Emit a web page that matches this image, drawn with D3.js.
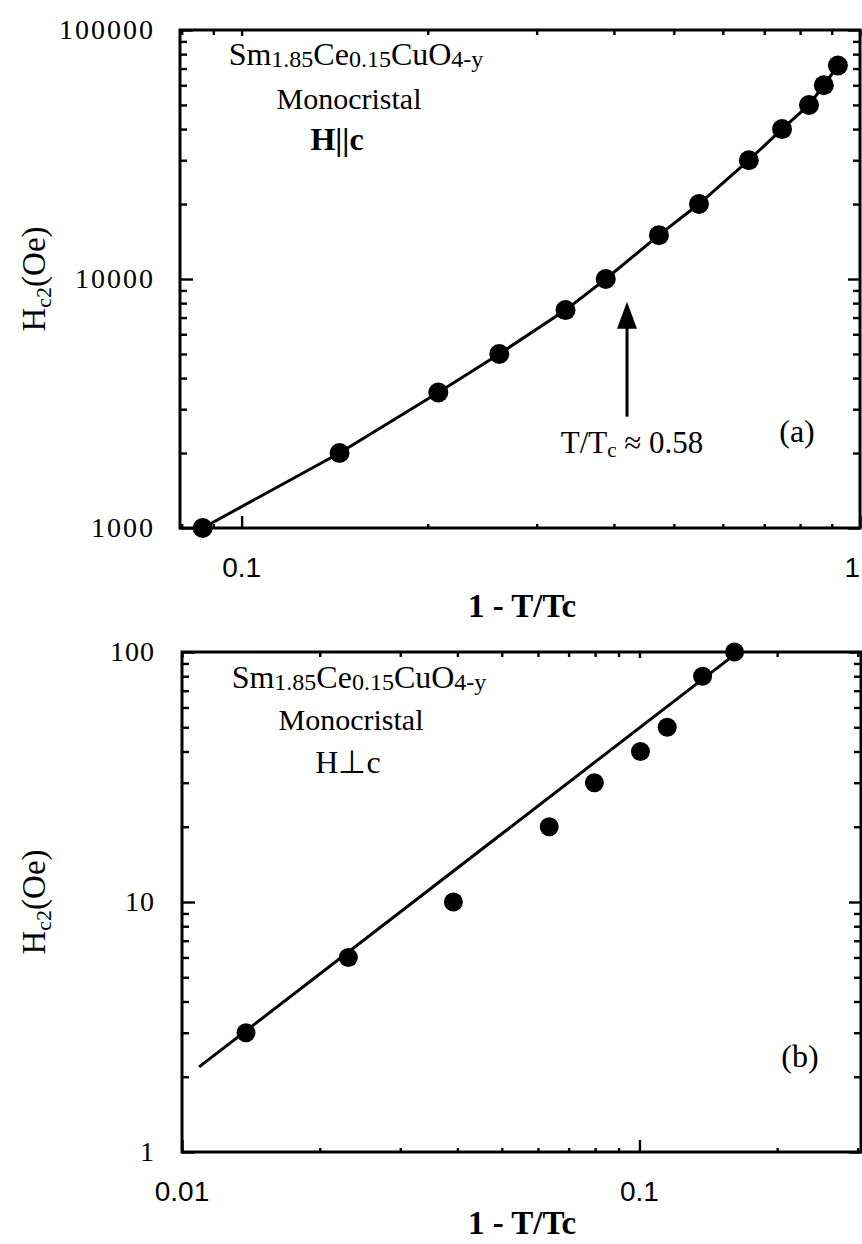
<!DOCTYPE html>
<html>
<head>
<meta charset="utf-8">
<script src="https://cdn.jsdelivr.net/npm/d3@7"></script>
<style>
	body { margin: 0; background: #fff; }
	svg { display: block; }
	.serif { font-family: "Liberation Serif", "Times New Roman", serif; fill: #000; }
	.sans { font-family: "Liberation Sans", Arial, sans-serif; fill: #000; }
</style>
</head>
<body>
<div id="chart"></div>
<script>
// panel (a) : H || c
let xA		= [0.0865, 0.144, 0.208, 0.261, 0.334, 0.388, 0.473, 0.549, 0.661, 0.748, 0.827, 0.874, 0.921];
let yA		= [1000, 2000, 3500, 5000, 7500, 10000, 15000, 20000, 30000, 40000, 50000, 60000, 72000];
let yTicksA	= [1000, 10000, 100000];
let xTicksA	= [0.1, 1];
let arrowX	= 0.42;
let arrowY	= [2800, 8100];

// panel (b) : H perp c
let xB		= [0.0138, 0.0231, 0.0392, 0.0635, 0.0797, 0.1005, 0.115, 0.1374, 0.1614];
let yB		= [3, 6, 10, 20, 30, 40, 50, 80, 100];
let fitXB	= [0.0109, 0.163];
let fitYB	= [2.19, 99];
let yTicksB	= [1, 10, 100];
let xTicksB	= [0.01, 0.1];

let W = 862, H = 1244;

let svg = d3.select("#chart").append("svg")
	.attr("width", W)
	.attr("height", H);

function drawPanel(cfg) {
	let x = d3.scaleLog().domain(cfg.xDomain).range([cfg.left, cfg.right]);
	let y = d3.scaleLog().domain(cfg.yDomain).range([cfg.bottom, cfg.top]);
	let g = svg.append("g");

	let isMajor = (v) => Math.abs(Math.log10(v) - Math.round(Math.log10(v))) < 1e-6;
	let xMinor = x.ticks().filter(v => !isMajor(v));
	let yMinor = y.ticks().filter(v => !isMajor(v));
	let xMajor = x.ticks().filter(isMajor);
	let yMajor = y.ticks().filter(isMajor);

	function tickAxis(axis, pos, values, size) {
		g.append("g")
			.attr("transform", pos)
			.call(axis.tickValues(values).tickSize(size).tickFormat(""))
			.call(s => s.select(".domain").remove())
			.call(s => s.selectAll("line").attr("stroke", "#000").attr("stroke-width", 2.4));
	}

	tickAxis(d3.axisLeft(y), `translate(${cfg.left},0)`, yMinor, -7);
	tickAxis(d3.axisLeft(y), `translate(${cfg.left},0)`, yMajor, -13);
	tickAxis(d3.axisRight(y), `translate(${cfg.right},0)`, yMinor, -7);
	tickAxis(d3.axisRight(y), `translate(${cfg.right},0)`, yMajor, -12);
	tickAxis(d3.axisBottom(x), `translate(0,${cfg.bottom})`, xMinor, -4);
	tickAxis(d3.axisBottom(x), `translate(0,${cfg.bottom})`, xMajor, -12);
	tickAxis(d3.axisTop(x), `translate(0,${cfg.top})`, xMinor, -5);
	tickAxis(d3.axisTop(x), `translate(0,${cfg.top})`, xMajor, -6);

	g.append("rect")
		.attr("x", cfg.left)
		.attr("y", cfg.top)
		.attr("width", cfg.right - cfg.left)
		.attr("height", cfg.bottom - cfg.top)
		.attr("fill", "none")
		.attr("stroke", "#000")
		.attr("stroke-width", 3);

	// tick labels
	g.selectAll("text.ylab")
		.data(cfg.yTicks)
		.enter().append("text")
		.attr("class", "serif")
		.attr("x", 155)
		.attr("y", (d) => y(d))
		.attr("dy", "0.33em")
		.attr("text-anchor", "end")
		.attr("letter-spacing", cfg.ySpacing)
		.style("font-size", "28px")
		.text((d) => d);

	// the last x label sits on the right edge, keep it inside
	g.selectAll("text.xlab")
		.data(cfg.xTicks)
		.enter().append("text")
		.attr("class", "sans")
		.attr("x", (d) => Math.min(x(d), W - 1))
		.attr("y", cfg.bottom + 49)
		.attr("text-anchor", (d) => x(d) > W - 20 ? "end" : "middle")
		.style("font-size", "28px")
		.text((d) => d);

	// axis titles
	g.append("text")
		.attr("class", "serif")
		.attr("x", 522)
		.attr("y", Math.min(cfg.bottom + 89, H - 10))
		.attr("text-anchor", "middle")
		.style("font-size", "33px")
		.style("font-weight", "bold")
		.text("1 - T/Tc");

	let yl = g.append("text")
		.attr("class", "serif")
		.attr("transform", `translate(45,${(cfg.top + cfg.bottom) / 2}) rotate(-90)`)
		.attr("text-anchor", "middle")
		.style("font-size", "33px");
	yl.append("tspan").text("H");
	yl.append("tspan").attr("dy", 6).style("font-size", "22px").text("c2");
	yl.append("tspan").attr("dy", -6).text("(Oe)");

	// sample description
	let f = g.append("text")
		.attr("class", "serif")
		.attr("x", cfg.textX[0])
		.attr("y", cfg.textY[0])
		.attr("text-anchor", "middle")
		.style("font-size", "32px");
	[["Sm", 0], ["1.85", 1], ["Ce", 0], ["0.15", 1], ["CuO", 0], ["4-y", 1]].forEach(p => {
		f.append("tspan")
			.style("font-size", p[1] ? "24px" : "32px")
			.attr("dy", p[1] ? 2 : -2)
			.text(p[0]);
	});

	g.append("text")
		.attr("class", "serif")
		.attr("x", cfg.textX[1])
		.attr("y", cfg.textY[1])
		.attr("text-anchor", "middle")
		.style("font-size", "30px")
		.text("Monocristal");

	g.append("text")
		.attr("class", "serif")
		.attr("x", cfg.textX[2])
		.attr("y", cfg.textY[2])
		.attr("text-anchor", "middle")
		.style("font-size", "32px")
		.style("font-weight", cfg.orientBold ? "bold" : "normal")
		.text(cfg.orient);

	g.append("text")
		.attr("class", "serif")
		.attr("x", cfg.panelPos[0])
		.attr("y", cfg.panelPos[1])
		.attr("text-anchor", "middle")
		.style("font-size", "32px")
		.text(cfg.panelLabel);

	// curve and points
	let line = d3.line()
		.x((d) => x(d[0]))
		.y((d) => y(d[1]));

	g.append("path")
		.datum(d3.zip(cfg.lineX, cfg.lineY))
		.attr("d", line)
		.attr("fill", "none")
		.attr("stroke", "#000")
		.attr("stroke-width", 3);

	g.selectAll("circle.pt")
		.data(d3.zip(cfg.px, cfg.py))
		.enter().append("circle")
		.attr("cx", (d) => x(d[0]))
		.attr("cy", (d) => y(d[1]))
		.attr("r", cfg.r)
		.attr("fill", "#000");

	return { x: x, y: y, g: g };
}

let pa = drawPanel({
	left: 180, right: 860, top: 30, bottom: 528,
	xDomain: [0.0795, 1], yDomain: [1000, 100000],
	xTicks: xTicksA, yTicks: yTicksA, ySpacing: 2,
	px: xA, py: yA, lineX: xA, lineY: yA, r: 10,
	textX: [356, 349, 337], textY: [67, 109, 150],
	orient: "H||c", orientBold: true,
	panelLabel: "(a)", panelPos: [797, 442]
});

let pb = drawPanel({
	left: 182, right: 861, top: 652, bottom: 1152,
	xDomain: [0.01, 0.305], yDomain: [1, 100],
	xTicks: xTicksB, yTicks: yTicksB, ySpacing: 1,
	px: xB, py: yB, lineX: fitXB, lineY: fitYB, r: 9.5,
	textX: [359, 351, 348], textY: [690, 730, 773],
	orient: "H\u22a5c", orientBold: false,
	panelLabel: "(b)", panelPos: [800, 1067]
});

// arrow marking T/Tc ~ 0.58
let ax = pa.x(arrowX);
pa.g.append("line")
	.attr("x1", ax).attr("x2", ax)
	.attr("y1", pa.y(arrowY[0]))
	.attr("y2", pa.y(arrowY[1]) + 20)
	.attr("stroke", "#000")
	.attr("stroke-width", 3);

pa.g.append("path")
	.attr("d", `M${ax},${pa.y(arrowY[1])} L${ax - 10},${pa.y(arrowY[1]) + 27} L${ax + 10},${pa.y(arrowY[1]) + 27} Z`)
	.attr("fill", "#000");

let lab = pa.g.append("text")
	.attr("class", "serif")
	.attr("x", 632)
	.attr("y", 453)
	.attr("text-anchor", "middle")
	.style("font-size", "31px");
lab.append("tspan").text("T/T");
lab.append("tspan").attr("dy", 4).style("font-size", "21px").text("c");
lab.append("tspan").attr("dy", -4).text(" \u2248 0.58");
</script>
</body>
</html>
